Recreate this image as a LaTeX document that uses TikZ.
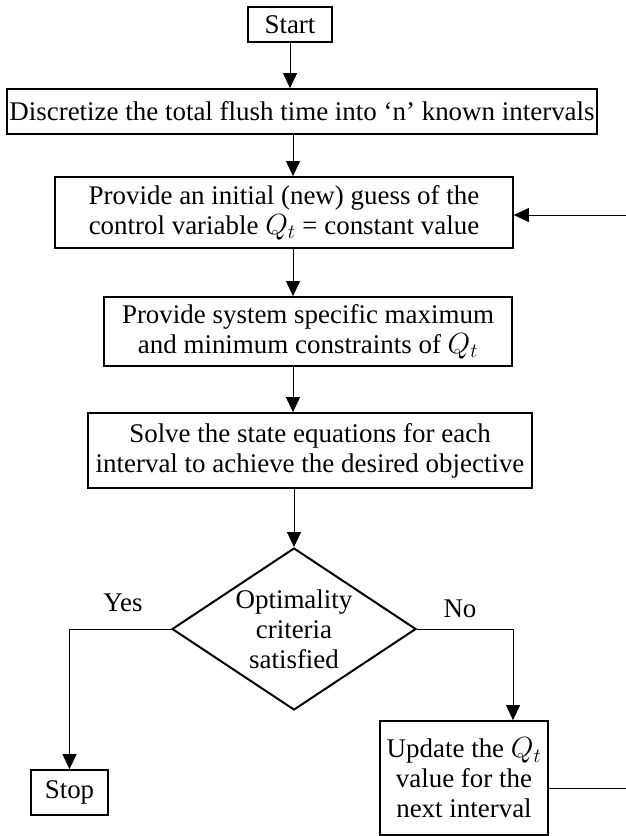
\documentclass[tikz,border=0pt]{standalone}
\usepackage{fontspec}
\setmainfont{Liberation Serif}
\usetikzlibrary{arrows.meta,shapes.geometric}

\begin{document}
\begin{tikzpicture}[
        x=0.03cm,
        y=-0.03cm,
        font=\fontsize{23}{25.6}\selectfont
    ]
    \tikzset{
        mybox/.style = {rectangle, draw=black, line width=1.5pt, align=center, inner sep=0pt},
        mydiam/.style = {diamond, shape aspect=1.5, draw=black, line width=1.7pt, align=center, inner sep=0pt},
        myarrow/.style = {-{Triangle[length=0.45cm,width=0.42cm]}, line width=0.8pt},
        myline/.style = {-, line width=0.8pt},
    }
    \useasboundingbox (0,0) rectangle (626,836);
    \node[mybox, minimum width=2.52cm, minimum height=1.05cm] at (290,24.5) (start) {Start};
    \node[mybox, minimum width=17.7cm, minimum height=1.35cm] at (302,111.5) (disc)
        {Discretize the total flush time into `n' known intervals};
    \node[mybox, minimum width=13.74cm, minimum height=2.13cm] at (284,212.5) (guess)
        {Provide an initial (new) guess of the\\control variable $Q_t$ = constant value};
    \node[mybox, minimum width=12.24cm, minimum height=2.07cm] at (308,331.5) (cons)
        {Provide system specific maximum\\and minimum constraints of $Q_t$};
    \node[mybox, minimum width=13.32cm, minimum height=2.25cm] at (310,450.5) (solve)
        {Solve the state equations for each\\interval to achieve the desired objective};
    \node[mydiam, minimum width=7.32cm, minimum height=4.86cm] at (294,629) (opt)
        {Optimality\\criteria\\satisfied};
    \node[mybox, minimum width=2.31cm, minimum height=1.35cm] at (69.5,792.5) (stop) {Stop};
    \node[mybox, minimum width=5.04cm, minimum height=3.42cm] at (464,778) (upd)
        {Update the $Q_t$\\value for the\\next interval};
    \node at (123,603) (yes) {Yes};
    \node at (460,609) (no) {No};
    \coordinate (col) at (293,0);
    \coordinate (fbin) at (626,215);
    \coordinate (fbout) at (626,788);
    %
    \draw[myarrow] (start) -- (start |- disc.north);
    \draw[myarrow] (disc.south -| col) -- (guess.north -| col);
    \draw[myarrow] (guess.south -| col) -- (cons.north -| col);
    \draw[myarrow] (cons.south -| col) -- (solve.north -| col);
    \draw[myarrow] (solve.south -| opt) -- (opt.north);
    %
    \draw[myarrow] (opt.west) -| (stop.north);
    \draw[myarrow] (opt.east) -- (opt.east -| 513,0) -- (upd.north -| 513,0);
    %
    \draw[myline] (upd.east |- fbout) -- (fbout);
    \draw[myarrow] (fbin) -- (fbin -| guess.east);
\end{tikzpicture}
\end{document}
